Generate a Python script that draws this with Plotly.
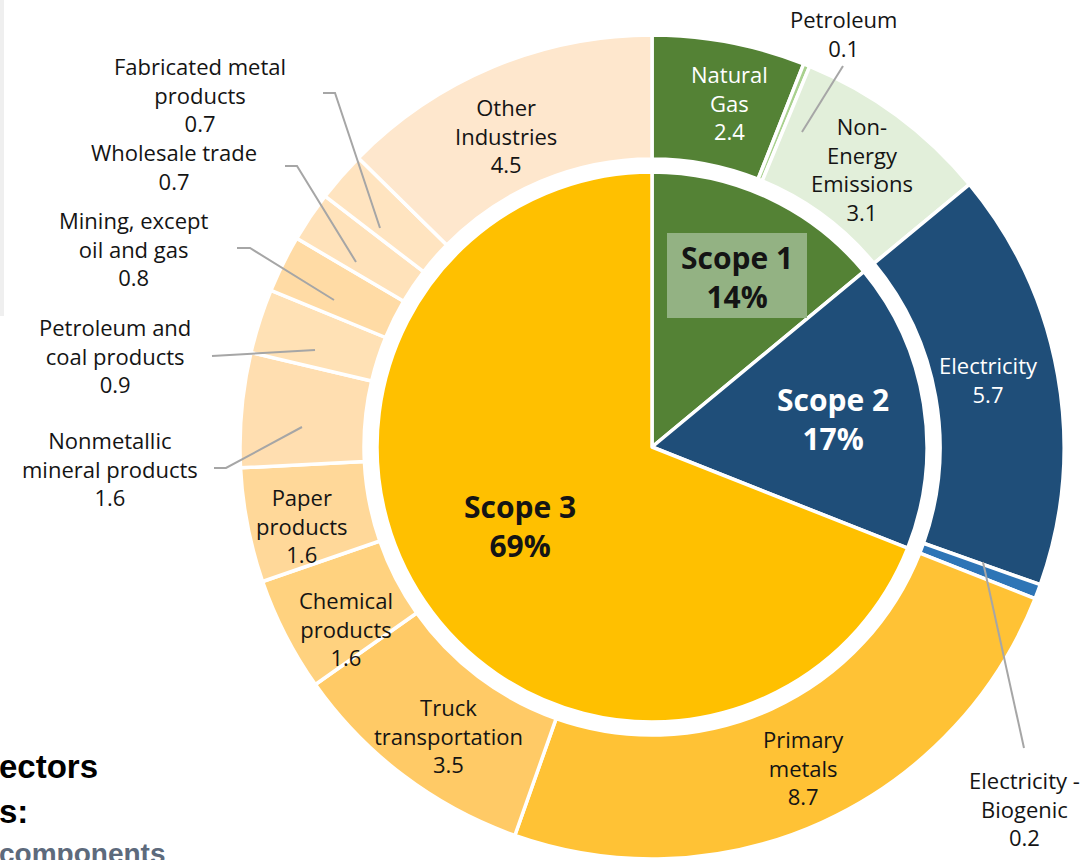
import plotly.graph_objects as go

W, H = 1083, 860

# ---------------- data ----------------
scope_labels = ["Scope 1", "Scope 2", "Scope 3"]
scope_pct = [14, 17, 69]

sector_labels = [
    "Natural Gas", "Petroleum", "Non-Energy Emissions",
    "Electricity", "Electricity - Biogenic",
    "Primary metals", "Truck transportation", "Chemical products",
    "Paper products", "Nonmetallic mineral products",
    "Petroleum and coal products", "Mining, except oil and gas",
    "Wholesale trade", "Fabricated metal products", "Other Industries",
]
sector_scope = [0, 0, 0, 1, 1, 2, 2, 2, 2, 2, 2, 2, 2, 2, 2]
sector_values = [2.4, 0.1, 3.1, 5.7, 0.2, 8.7, 3.5, 1.6, 1.6, 1.6, 0.9, 0.8, 0.7, 0.7, 4.5]

# ---------------- styles ----------------
scope_colors = ["#548235", "#1f4e79", "#ffc000"]
sector_colors = [
    "#548235", "#a9d18e", "#e2efda",
    "#1f4e79", "#2e75b6",
    "#ffc235", "#ffca66", "#ffd27f",
    "#ffd899", "#ffdeb0",
    "#ffe1b5", "#ffdba5",
    "#ffe2ba", "#ffe4c0", "#fee7cd",
]


def px(x):
    return x / W


def py(y):
    return 1 - y / H


# each sector fills its scope's share of the inner pie
scope_tot = [sum(v for v, s in zip(sector_values, sector_scope) if s == k) for k in range(3)]
outer_share = [v / scope_tot[s] * scope_pct[s] for v, s in zip(sector_values, sector_scope)]

CX, CY = 652, 447
R_OUT, R_IN = 412, 275

fig = go.Figure()
fig.add_trace(go.Pie(
    labels=sector_labels, values=outer_share, sort=False, direction="clockwise",
    rotation=0, hole=288 / 412, textinfo="none", hoverinfo="label",
    marker=dict(colors=sector_colors, line=dict(color="white", width=3.5)),
    domain=dict(x=[px(CX - R_OUT), px(CX + R_OUT)], y=[py(CY + R_OUT), py(CY - R_OUT)]),
    showlegend=False,
))
fig.add_trace(go.Pie(
    labels=scope_labels, values=scope_pct, sort=False, direction="clockwise",
    rotation=0, textinfo="none", hoverinfo="label+percent",
    marker=dict(colors=scope_colors, line=dict(color="white", width=3.5)),
    domain=dict(x=[px(CX - R_IN), px(CX + R_IN)], y=[py(CY + R_IN), py(CY - R_IN)]),
    showlegend=False,
))

FONT = "'Open Sans', 'Noto Sans', sans-serif"
DARK = "#141414"

annotations = []

# (label index, x, y, color, text lines)
label_pos = [
    (1, 843, 33, DARK, ["Petroleum"]),
    (0, 729, 103, "white", ["Natural", "Gas"]),
    (2, 862, 169, DARK, ["Non-", "Energy", "Emissions"]),
    (14, 506, 135, DARK, ["Other", "Industries"]),
    (13, 200, 94, DARK, ["Fabricated metal", "products"]),
    (12, 174, 166, DARK, ["Wholesale trade"]),
    (11, 133, 248, DARK, ["Mining, except", "oil and gas"]),
    (10, 115, 355, DARK, ["Petroleum and", "coal products"]),
    (9, 110, 468, DARK, ["Nonmetallic", "mineral products"]),
    (8, 302, 525, DARK, ["Paper", "products"]),
    (7, 346, 628, DARK, ["Chemical", "products"]),
    (6, 448, 735, DARK, ["Truck", "transportation"]),
    (5, 803, 767, DARK, ["Primary", "metals"]),
    (3, 988, 379, "white", ["Electricity"]),
    (4, 1024, 808, DARK, ["Electricity -", "Biogenic"]),
]
for idx, x, y, col, lines in label_pos:
    annotations.append(dict(
        x=px(x), y=py(y), xref="paper", yref="paper",
        text="<br>".join(lines + [f"{sector_values[idx]:.1f}"]), showarrow=False,
        xanchor="center", yanchor="middle", align="center", borderpad=0,
        font=dict(family=FONT, size=22, color=col),
    ))

scope_pos = [(737, 277, DARK), (833, 419, "white"), (520, 526, DARK)]
for k, (x, y, col) in enumerate(scope_pos):
    annotations.append(dict(
        x=px(x), y=py(y), xref="paper", yref="paper",
        text=f"<b>{scope_labels[k]}<br>{scope_pct[k]}%</b>", showarrow=False,
        xanchor="center", yanchor="middle", align="center", borderpad=0,
        font=dict(family=FONT, size=30, color=col),
    ))

# clipped slide text at bottom-left
SANS = "'Liberation Sans', Arial, sans-serif"
for txt, y, col, sz in [("ectors", 766, "#000000", 33), ("s:", 811, "#000000", 33),
                        ("components", 853, "#5d6a7c", 28)]:
    annotations.append(dict(
        x=0, y=py(y), xref="paper", yref="paper", text=f"<b>{txt}</b>", showarrow=False,
        xanchor="left", yanchor="middle", xshift=-2, borderpad=0,
        font=dict(family=SANS, size=sz, color=col),
    ))

# leader lines
leaders = [
    [(843, 66), (802, 132)],
    [(323, 93), (335, 93), (380, 228)],
    [(285, 166), (297, 166), (356, 262)],
    [(237, 248), (250, 248), (334, 300)],
    [(212, 356), (315, 350)],
    [(214, 468), (226, 468), (302, 427)],
    [(983, 562), (1024, 748)],
]
shapes = []
for pts in leaders:
    path = "M" + " L".join(f"{px(x):.5f},{py(y):.5f}" for x, y in pts)
    shapes.append(dict(type="path", path=path, xref="paper", yref="paper",
                       line=dict(color="#a6a6a6", width=2), layer="above"))
# Scope 1 highlight box
shapes.append(dict(type="rect", xref="paper", yref="paper", x0=px(667), x1=px(807),
                   y0=py(318), y1=py(233), fillcolor="#93b283", line=dict(width=0), layer="above"))
# faint strip on the left edge
shapes.append(dict(type="rect", xref="paper", yref="paper", x0=0, x1=px(4), y0=py(316), y1=1,
                   fillcolor="#efefef", line=dict(width=0), layer="below"))

fig.update_layout(
    width=W, height=H, margin=dict(l=0, r=0, t=0, b=0),
    paper_bgcolor="white", plot_bgcolor="white",
    annotations=annotations, shapes=shapes, showlegend=False,
)

fig.write_html(
    "out.html",
    config={"displayModeBar": False},
    post_script="document.body.style.margin='0';document.body.style.overflow='hidden';",
)
